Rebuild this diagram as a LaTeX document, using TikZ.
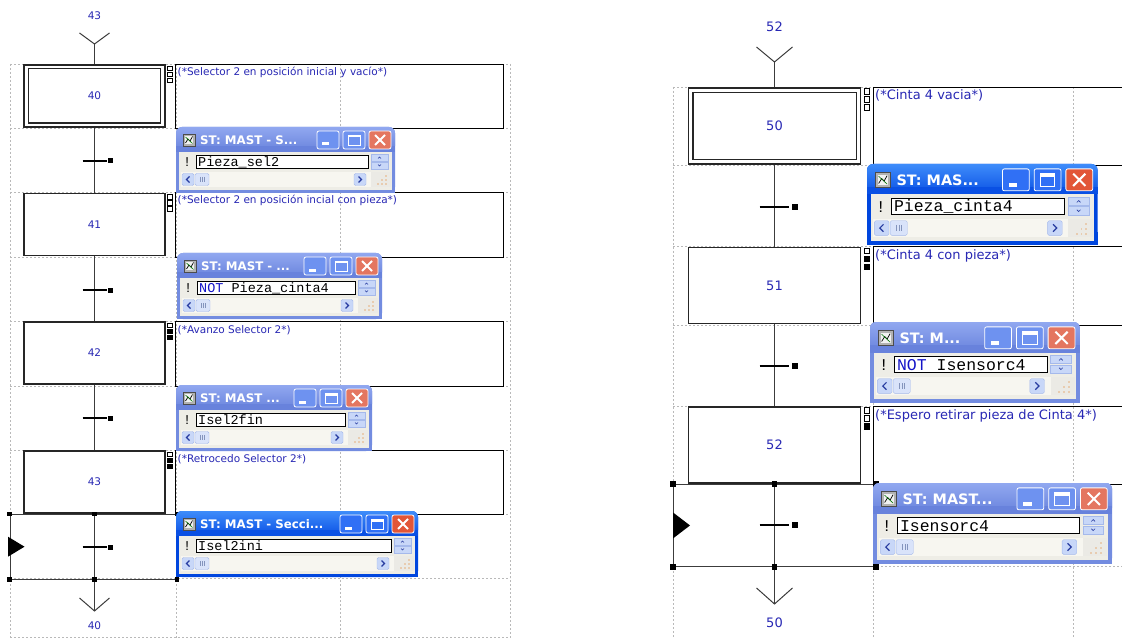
\documentclass[tikz,border=0pt]{standalone}
\usepackage{fontspec}
\setmainfont{DejaVu Sans}
\newfontfamily\monofont{Liberation Mono}
\newfontfamily\titlefont{DejaVu Sans}
\definecolor{lblc}{RGB}{40,40,180}
\definecolor{gridc}{RGB}{185,185,185}
\definecolor{axisc}{RGB}{60,60,60}
\definecolor{bodyc}{RGB}{238,237,230}
\definecolor{trackc}{RGB}{247,246,240}
\definecolor{scbc}{RGB}{200,215,248}
\definecolor{scbd}{RGB}{165,185,235}
\definecolor{navyc}{RGB}{40,60,160}
\definecolor{kwc}{RGB}{20,20,200}
\definecolor{actfr}{RGB}{0,70,222}
\definecolor{acttop}{RGB}{62,140,250}
\definecolor{actbot}{RGB}{10,80,228}
\definecolor{actbtn}{RGB}{48,112,245}
\definecolor{actcls}{RGB}{226,86,56}
\definecolor{inafr}{RGB}{115,140,224}
\definecolor{inatop}{RGB}{145,168,240}
\definecolor{inabot}{RGB}{104,130,220}
\definecolor{inabtn}{RGB}{110,146,240}
\definecolor{inacls}{RGB}{228,118,96}
\tikzset{
 griddash/.style={draw=gridc, dash pattern=on 2pt off 2pt, line width=0.6pt},
 stepL/.style={draw=black!85, line width=1.2pt, minimum width=141pt, minimum height=62pt, inner sep=0, text=lblc, font=\fontsize{10.5}{12}\selectfont},
 stepR/.style={stepL, minimum width=172pt, minimum height=76pt, font=\fontsize{13}{15}\selectfont},
 steprim/.style={draw=black!85, line width=1.2pt},
 actbox/.style={draw=black, line width=0.8pt, inner sep=0, anchor=north west},
 acttxtL/.style={text=lblc, font=\fontsize{10.5}{12}\selectfont, inner sep=0, anchor=base west},
 acttxtR/.style={acttxtL, font=\fontsize{13}{15}\selectfont},
 axisline/.style={draw=axisc, line width=1pt},
 trbar/.style={draw=black, line width=2pt},
 trsqL/.style={fill=black, inner sep=0, minimum size=5pt},
 trsqR/.style={fill=black, inner sep=0, minimum size=6pt},
 qbox/.style={draw=black, line width=0.6pt, fill=white},
 qfill/.style={draw=black, line width=0.6pt, fill=black},
 selbox/.style={draw=axisc, line width=0.9pt, inner sep=0, anchor=north west},
 hdlL/.style={fill=black, inner sep=0, minimum size=4.5pt},
 hdlR/.style={fill=black, inner sep=0, minimum size=5.5pt},
 varr/.style={draw=axisc, line width=1pt},
 numL/.style={text=lblc, inner sep=0, font=\fontsize{10.5}{12}\selectfont},
 numR/.style={text=lblc, inner sep=0, font=\fontsize{13}{15}\selectfont},
 monot/.style={inner sep=0, anchor=west, font=\monofont\fontsize{13.5}{15}\selectfont},
}
% #1 name, #2 x, #3 y, #4 width, #5 scale, #6 state, #7 title, #8 content
\newcommand\xpwin[8]{%
\begin{scope}[shift={(#2,#3)},scale=#5,transform shape]
\def\W{#4}%
\coordinate (#1) at (0,0);
\fill[#6fr,rounded corners=6pt] (0,0) rectangle (\W,66);
\fill[#6fr] (0,56) rectangle (\W,66);
\shade[top color=#6top,bottom color=#6bot,rounded corners=6pt] (0,0) rectangle (\W,25);
\fill[#6bot] (0,19) rectangle (\W,25);
% icon
\fill[gray!60] (7,7) rectangle (19,19);
\draw[black!70,line width=0.5pt] (7,7) rectangle (19,19);
\fill[white!90!gray] (9,9) rectangle (17,17);
\draw[black,line width=0.7pt] (9.5,16) -- (12,12) -- (14,14) -- (16.5,9.5);
\draw[green!45!black,line width=0.6pt] (9.5,10) -- (16.5,16.5);
% title
\node[anchor=west,text=white,inner sep=0,font=\titlefont\bfseries\fontsize{11.8}{13}\selectfont] (#1-title) at (24,13) {#7};
% buttons
\filldraw[fill=#6btn,draw=white,line width=0.8pt,rounded corners=2pt] ({\W-78},4) rectangle ({\W-56},22);
\fill[white] ({\W-73},15.5) rectangle ({\W-66},18.5);
\filldraw[fill=#6btn,draw=white,line width=0.8pt,rounded corners=2pt] ({\W-52},4) rectangle ({\W-30},22);
\draw[white,line width=0.9pt] ({\W-47},8) rectangle ({\W-35},18);
\fill[white] ({\W-47},8) rectangle ({\W-35},10.5);
\filldraw[fill=#6cls,draw=white,line width=0.8pt,rounded corners=2pt] ({\W-26},4) rectangle ({\W-4},22);
\draw[white,line width=2pt] ({\W-20},8) -- ({\W-10},18) ({\W-20},18) -- ({\W-10},8);
% body
\fill[bodyc] (3,25) rectangle ({\W-3},63);
\node[monot] (#1-bang) at (7,35) {!};
\draw[fill=white,line width=0.8pt] (20,28) rectangle ({\W-27},41);
\node[monot] (#1-text) at (22,35) {#8};
% vertical mini scroll
\filldraw[fill=scbc,draw=scbd,line width=0.4pt] ({\W-24},27) rectangle ({\W-7},34);
\filldraw[fill=scbc,draw=scbd,line width=0.4pt] ({\W-24},35) rectangle ({\W-7},42);
\draw[navyc,line width=0.6pt] ({\W-17},31.5) -- ({\W-15.5},30) -- ({\W-14},31.5);
\draw[navyc,line width=0.6pt] ({\W-17},37.5) -- ({\W-15.5},39) -- ({\W-14},37.5);
% horizontal scroll
\fill[trackc] (5,45) rectangle ({\W-24},60);
\filldraw[fill=scbc,draw=scbd,line width=0.4pt,rounded corners=1.5pt] (6,46.5) rectangle (18,58.5);
\draw[navyc,line width=1.2pt] (13.5,49.5) -- (10.5,52.5) -- (13.5,55.5);
\filldraw[fill=scbc!70!white,draw=scbd,line width=0.4pt,rounded corners=1.5pt] (19,46.5) rectangle (33,58.5);
\draw[scbd!80!black,line width=0.4pt] (24,50) -- (24,55) (26,50) -- (26,55) (28,50) -- (28,55);
\filldraw[fill=scbc,draw=scbd,line width=0.4pt,rounded corners=1.5pt] ({\W-41},46.5) rectangle ({\W-29},58.5);
\draw[navyc,line width=1.2pt] ({\W-36.5},49.5) -- ({\W-33.5},52.5) -- ({\W-36.5},55.5);
\fill[trackc!90!gray] ({\W-24},45) rectangle ({\W-4},60);
\foreach \gx/\gy in {-10/50,-10/54,-14/54,-10/58,-14/58,-18/58}
  \fill[gray!45!orange!40] ({\W+\gx},\gy) rectangle ++(1.6,-1.6);
\end{scope}}
\begin{document}
\begin{tikzpicture}[x=1pt,y=-1pt]
\clip (0,0) rectangle (1122,639);
\fill[white] (0,0) rectangle (1122,639);
% ---------- grids ----------
\foreach \yy in {64,128,192,257,321,386,450,514,578,637}
  \draw[griddash] (10,\yy) -- (510,\yy);
\foreach \xx in {10,176,340,510}
  \draw[griddash] (\xx,64) -- (\xx,639);
\foreach \yy in {87,165,246,325,406,484,566}
  \draw[griddash] (673,\yy) -- (1122,\yy);
\foreach \xx in {673,873,1073}
  \draw[griddash] (\xx,87) -- (\xx,639);
% ---------- left column ----------
\node[actbox,minimum width=328pt,minimum height=64pt] (a40) at (175,64) {};
\node[actbox,minimum width=328pt,minimum height=65pt] (a41) at (175,192) {};
\node[actbox,minimum width=328pt,minimum height=65pt] (a42) at (175,321) {};
\node[actbox,minimum width=328pt,minimum height=64pt] (a43) at (175,450) {};
\node[acttxtL] (a40t) at (177.5,76) {(*Selector 2 en posición inicial y vacío*)};
\node[acttxtL] (a41t) at (177.5,204) {(*Selector 2 en posición incial con pieza*)};
\node[acttxtL] (a42t) at (177.5,333) {(*Avanzo Selector 2*)};
\node[acttxtL] (a43t) at (177.5,462) {(*Retrocedo Selector 2*)};

\node[stepL] (s40) at (94.5,96) {40};
\draw[steprim] ([shift={(5pt,-4.5pt)}]s40.north west) rectangle ([shift={(-5pt,4.5pt)}]s40.south east);
\node[stepL] (s41) at (94.5,224.5) {41};
\node[stepL] (s42) at (94.5,353) {42};
\node[stepL] (s43) at (94.5,482) {43};

\coordinate (inL) at (94.5,44);
\coordinate (outL) at (94.5,611);
\coordinate (t40) at (94.5,161);
\coordinate (t41) at (94.5,290);
\coordinate (t42) at (94.5,418);
\coordinate (t43) at (94.5,547);

\node[selbox,minimum width=166.5pt,minimum height=64.5pt] (selL) at (9.5,514) {};

\draw[axisline] (inL) -- (s40.north);
\draw[axisline] (s40.south) -- (t40) -- (s41.north);
\draw[axisline] (s41.south) -- (t41) -- (s42.north);
\draw[axisline] (s42.south) -- (t42) -- (s43.north);
\draw[axisline] (s43.south) -- (t43) -- (outL);

\draw[varr] ([shift={(-15pt,11pt)}]inL) -- (inL) -- ([shift={(15pt,11pt)}]inL);
\draw[varr] ([shift={(-15pt,13pt)}]outL) -- (outL) -- ([shift={(15pt,13pt)}]outL);
\node[numL] (topL) at (94.5,16) {43};
\node[numL] (botL) at (94.5,626) {40};

\foreach \t in {t40,t41,t42,t43}{
  \draw[trbar] ([xshift=-12pt]\t) -- ([xshift=12pt]\t);
  \node[trsqL] (\t q) at ([xshift=16pt]\t) {};
}

% qualifier boxes left
\foreach \yy in {66,72,78}{\draw[qbox] (167.5,\yy) rectangle ++(4.5,4.5);}
\foreach \yy in {194.5,200.5,206.5}{\draw[qbox] (167.5,\yy) rectangle ++(4.5,4.5);}
\draw[qbox] (167.5,323) rectangle ++(4.5,4.5);
\foreach \yy in {329,335}{\draw[qfill] (167.5,\yy) rectangle ++(4.5,4.5);}
\draw[qbox] (167.5,452) rectangle ++(4.5,4.5);
\foreach \yy in {458,464}{\draw[qfill] (167.5,\yy) rectangle ++(4.5,4.5);}

% selection left
\node[hdlL] (hL1) at (selL.north west) {};
\node[hdlL] (hL2) at (s43.south |- selL.north) {};
\node[hdlL] (hL3) at (selL.north east) {};
\node[hdlL] (hL4) at (selL.south west) {};
\node[hdlL] (hL5) at (s43.south |- selL.south) {};
\node[hdlL] (hL6) at (selL.south east) {};
\fill[black] ([shift={(-1.5pt,10pt)}]selL.west) -- ([xshift=15pt]selL.west) -- ([shift={(-1.5pt,-10pt)}]selL.west) -- cycle;

% ---------- right column ----------
\node[actbox,minimum width=300pt,minimum height=78pt] (a50) at (873,87) {};
\node[actbox,minimum width=300pt,minimum height=79pt] (a51) at (873,246) {};
\node[actbox,minimum width=300pt,minimum height=78pt] (a52) at (873,406) {};
\node[acttxtR] (a50t) at (875,100) {(*Cinta 4 vacia*)};
\node[acttxtR] (a51t) at (875,259) {(*Cinta 4 con pieza*)};
\node[acttxtR] (a52t) at (875,419) {(*Espero retirar pieza de Cinta 4*)};

\node[stepR] (s50) at (774.5,126) {50};
\draw[steprim] ([shift={(5pt,-5pt)}]s50.north west) rectangle ([shift={(-5pt,5pt)}]s50.south east);
\node[stepR] (s51) at (774.5,285.5) {51};
\node[stepR] (s52) at (774.5,445) {52};

\coordinate (inR) at (774.5,62);
\coordinate (outR) at (774.5,604);
\coordinate (t50) at (774.5,207);
\coordinate (t51) at (774.5,366);
\coordinate (t52) at (774.5,525);

\node[selbox,minimum width=202pt,minimum height=82pt] (selR) at (673,484) {};

\draw[axisline] (inR) -- (s50.north);
\draw[axisline] (s50.south) -- (t50) -- (s51.north);
\draw[axisline] (s51.south) -- (t51) -- (s52.north);
\draw[axisline] (s52.south) -- (t52) -- (outR);

\draw[varr] ([shift={(-18pt,15pt)}]inR) -- (inR) -- ([shift={(18pt,15pt)}]inR);
\draw[varr] ([shift={(-18pt,16pt)}]outR) -- (outR) -- ([shift={(18pt,16pt)}]outR);
\node[numR] (topR) at (774.5,27) {52};
\node[numR] (botR) at (774.5,623) {50};

\foreach \t in {t50,t51,t52}{
  \draw[trbar] ([xshift=-15pt]\t) -- ([xshift=14pt]\t);
  \node[trsqR] (\t q) at ([xshift=20pt]\t) {};
}

% qualifier boxes right
\foreach \yy in {88.5,96.5,104.5}{\draw[qbox] (864,\yy) rectangle ++(5.5,5.5);}
\draw[qbox] (864,248) rectangle ++(5.5,5.5);
\foreach \yy in {256,264}{\draw[qfill] (864,\yy) rectangle ++(5.5,5.5);}
\foreach \yy in {407.5,415.5}{\draw[qbox] (864,\yy) rectangle ++(5.5,5.5);}
\draw[qfill] (864,423.5) rectangle ++(5.5,5.5);

% selection right
\node[hdlR] (hR1) at (selR.north west) {};
\node[hdlR] (hR2) at (s52.south |- selR.north) {};
\node[hdlR] (hR3) at (selR.north east) {};
\node[hdlR] (hR4) at (selR.south west) {};
\node[hdlR] (hR5) at (s52.south |- selR.south) {};
\node[hdlR] (hR6) at (selR.south east) {};
\fill[black] ([yshift=13pt]selR.west) -- ([xshift=17pt]selR.west) -- ([yshift=-13pt]selR.west) -- cycle;

% ---------- popup windows ----------
\xpwin{p1}{176}{127}{219}{1}{ina}{ST: MAST - S...}{Pieza\_sel2}
\xpwin{p2}{177}{253}{205}{1}{ina}{ST: MAST - ...}{\textcolor{kwc}{NOT} Pieza\_cinta4}
\xpwin{p3}{176}{385}{196}{1}{ina}{ST: MAST ...}{Isel2fin}
\xpwin{p4}{176}{511}{242}{1}{act}{ST: MAST - Secci...}{Isel2ini}
\xpwin{r1}{867}{164}{189}{1.22}{act}{ST: MAS...}{Pieza\_cinta4}
\xpwin{r2}{870}{322}{172}{1.22}{ina}{ST: M...}{\textcolor{kwc}{NOT} Isensorc4}
\xpwin{r3}{873}{483}{196}{1.22}{ina}{ST: MAST...}{Isensorc4}
\end{tikzpicture}
\end{document}
